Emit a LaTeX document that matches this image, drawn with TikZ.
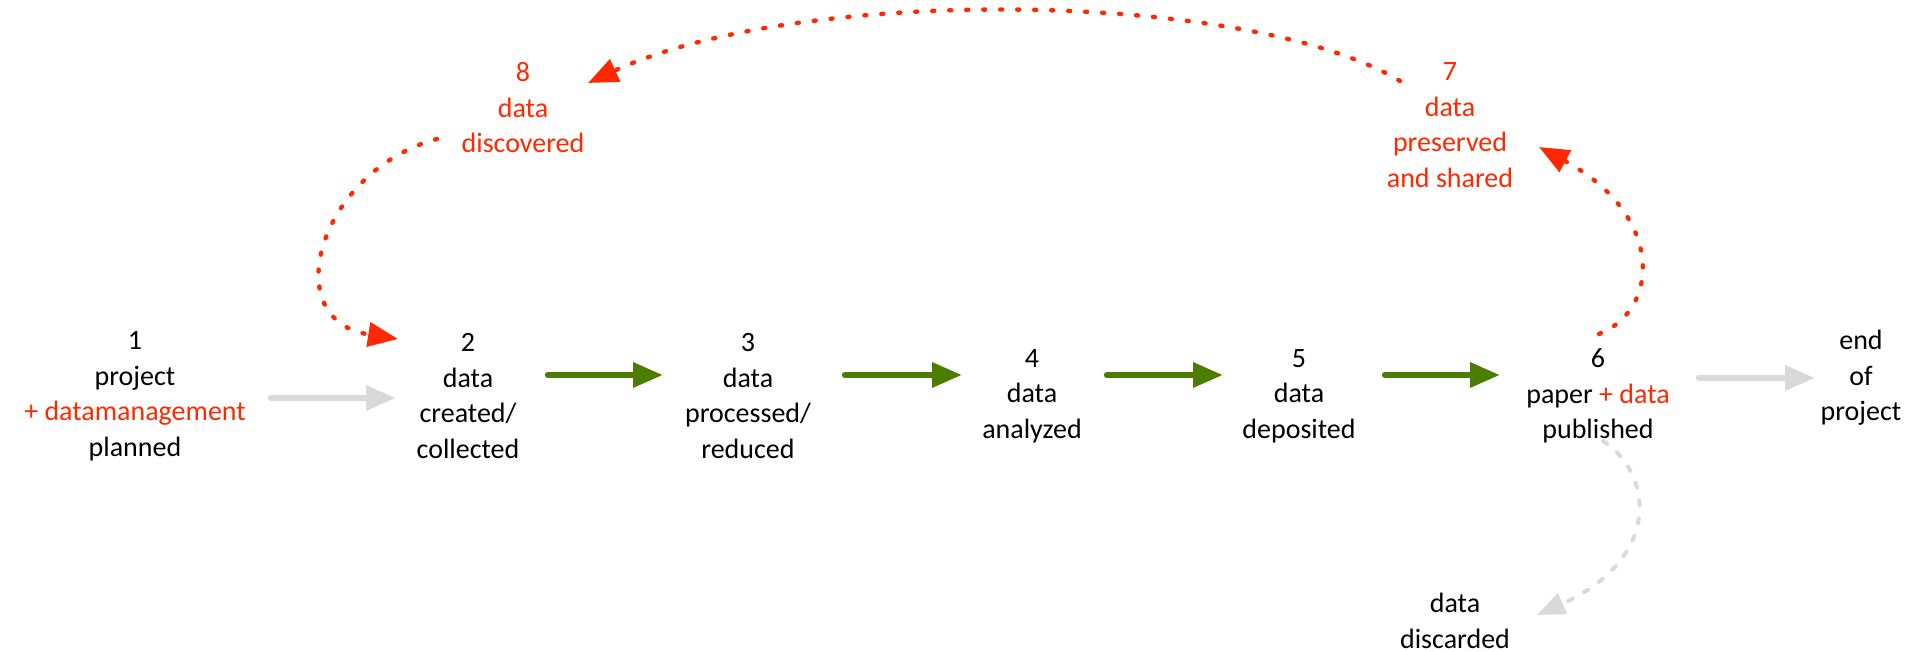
\documentclass[tikz,border=0pt]{standalone}
\usepackage{fontspec}
\setmainfont{Carlito}
\usetikzlibrary{arrows.meta,calc}
\definecolor{rd}{RGB}{255,40,0}
\definecolor{gn}{RGB}{76,124,0}
\definecolor{gy}{RGB}{217,217,217}
\begin{document}
\begin{tikzpicture}[x=0.5pt,y=-0.5pt,
  lbl/.style={inner sep=0pt,align=center,font=\fontsize{14pt}{17.75pt}\selectfont},
  rlbl/.style={lbl,text=rd},
  grnarrow/.style={draw=gn,line width=3.2pt,line cap=round,-{Triangle[length=15pt,width=12pt]}},
  gryarrow/.style={draw=gy,line width=3.2pt,line cap=round,-{Triangle[length=15pt,width=12pt]}},
  redarrow/.style={draw=rd,line width=2.2pt,line cap=round,dash pattern=on 1pt off 7.5pt,-{Triangle[length=15pt,width=12pt,fill=rd]}},
  grydash/.style={draw=gy,line width=2pt,line cap=round,dash pattern=on 2.5pt off 6.5pt,-{Triangle[length=14pt,width=11pt,fill=gy]}}]
\useasboundingbox (0,0) rectangle (1909,652);
\node[lbl] (n1) at (135,396) {1\\project\\\textcolor{rd}{+ datamanagement}\\planned};
\node[lbl] (n2) at (468,396) {2\\data\\created/\\collected};
\node[lbl] (n3) at (748,396) {3\\data\\processed/\\reduced};
\node[lbl] (n4) at (1032,396) {4\\data\\analyzed};
\node[lbl] (n5) at (1299,396) {5\\data\\deposited};
\node[lbl] (n6) at (1598,396) {6\\paper \textcolor{rd}{+ data}\\published};
\node[lbl] (endp) at (1861,378) {end\\of\\project};
\node[rlbl] (n7) at (1450,125) {7\\data\\preserved\\and shared};
\node[rlbl] (n8) at (523,108) {8\\data\\discovered};
\node[lbl] (disc) at (1455,621) {data\\discarded};
\draw[gryarrow] ($(n1)+(136,2)$) -- ($(n2)+(-72,2)$);
\draw[grnarrow] ($(n2)+(80,-21)$) -- ($(n3)+(-85,-21)$);
\draw[grnarrow] ($(n3)+(97,-21)$) -- ($(n4)+(-70,-21)$);
\draw[grnarrow] ($(n4)+(75,-21)$) -- ($(n5)+(-76,-21)$);
\draw[grnarrow] ($(n5)+(86,-21)$) -- ($(n6)+(-98,-21)$);
\draw[gryarrow] ($(n6)+(101,-18)$) -- ($(endp)+(-46,0)$);
\draw[redarrow] ($(n7)+(-50,-44)$) .. controls (1250,-10) and (800,-15) .. ($(n8)+(65,-25)$);
\draw[redarrow] ($(n8)+(-86,31)$) .. controls (320,170) and (275,320) .. ($(n2)+(-70,-57)$);
\draw[redarrow] ($(n6)+(1,-62)$) .. controls (1660,310) and (1665,215) .. ($(n7)+(89,22)$);
\draw[grydash] ($(n6)+(5,45)$) .. controls (1655,475) and (1660,560) .. ($(disc)+(82,-6)$);
\end{tikzpicture}
\end{document}
